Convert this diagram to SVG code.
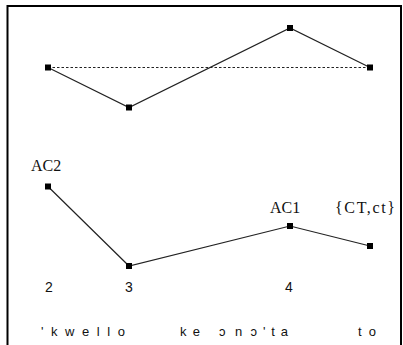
<svg xmlns="http://www.w3.org/2000/svg" width="403" height="345" viewBox="0 0 403 345">
<style>
.ln{stroke:#222;stroke-width:1.2;fill:none}
.dash{stroke:#222;stroke-width:1.2;stroke-dasharray:2.5,2;fill:none}
.pt{fill:#000}
.lab{font-family:"Liberation Serif",serif;font-size:16px;fill:#111}
.num{font-family:"Liberation Sans",sans-serif;font-size:14px;fill:#111}
.ph{font-family:"Liberation Sans",sans-serif;font-size:13px;fill:#111}
</style>
<rect width="403" height="345" fill="#fff"/>
<g id="frame" stroke="#000" stroke-width="2" fill="none">
<path d="M7.5 345 V6 H401 V345"/>
</g>
<g id="connectors">
<path class="dash" d="M48 67.5 H370"/>
<path class="ln" d="M48 67.5 L129 107.5 L290 28 L370 67.5"/>
<path class="ln" d="M48 186.5 L129 266 L290 226 L370 246"/>
</g>
<g id="top1"><rect class="pt" x="45" y="64.5" width="6" height="6"/></g>
<g id="top2"><rect class="pt" x="126" y="104.5" width="6" height="6"/></g>
<g id="top3"><rect class="pt" x="287" y="25" width="6" height="6"/></g>
<g id="top4"><rect class="pt" x="367" y="64.5" width="6" height="6"/></g>
<g id="ac2"><rect class="pt" x="45" y="183.5" width="6" height="6"/><text class="lab" x="31" y="171">AC2</text></g>
<g id="low2"><rect class="pt" x="126" y="263" width="6" height="6"/></g>
<g id="ac1"><rect class="pt" x="287" y="223" width="6" height="6"/><text class="lab" x="270" y="213">AC1</text></g>
<g id="ct"><rect class="pt" x="367" y="243" width="6" height="6"/><text class="lab" x="335" y="213" textLength="60" lengthAdjust="spacing">{CT,ct}</text></g>
<g id="numbers">
<text class="num" x="45" y="292">2</text>
<text class="num" x="125" y="292">3</text>
<text class="num" x="285" y="292">4</text>
</g>
<g id="phonetic">
<text class="ph" x="41" y="336" textLength="84" lengthAdjust="spacing">'kwello</text>
<text class="ph" x="180" y="336" textLength="20" lengthAdjust="spacing">ke</text>
<text class="ph" x="219" y="336">ɔ</text>
<text class="ph" x="235" y="336" textLength="22" lengthAdjust="spacing">nɔ</text>
<text class="ph" x="263" y="336" textLength="25" lengthAdjust="spacing">'ta</text>
<text class="ph" x="358" y="336" textLength="18" lengthAdjust="spacing">to</text>
</g>
</svg>
